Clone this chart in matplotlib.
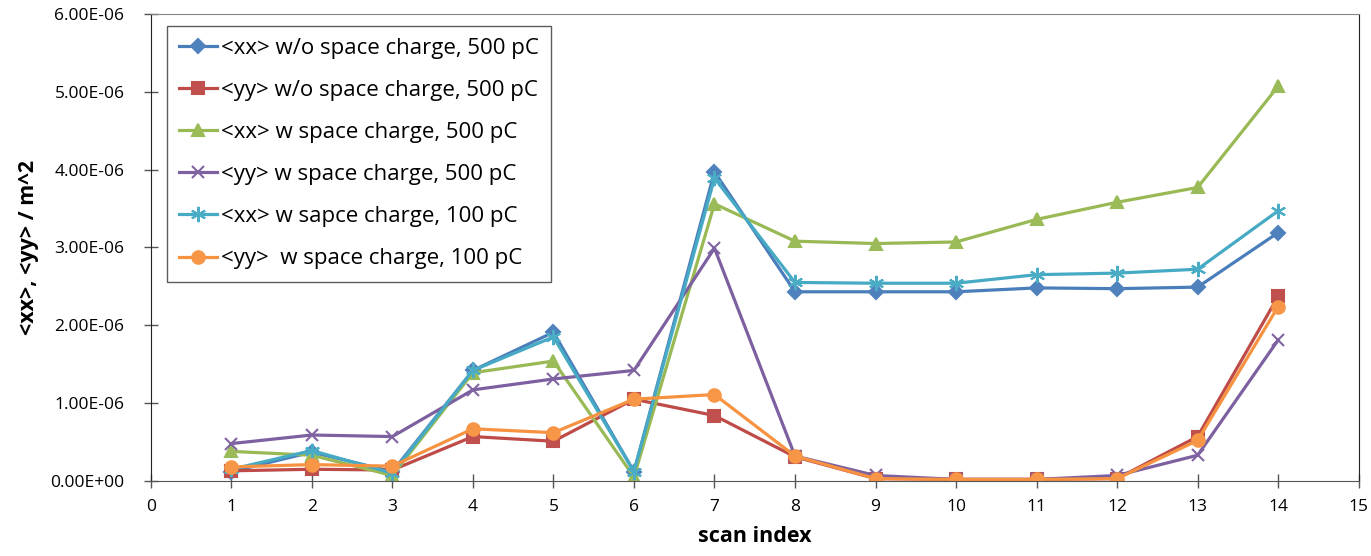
import numpy as np
import matplotlib.pyplot as plt

plt.rcParams['font.family'] = ['Open Sans', 'DejaVu Sans']

# scan positions and second moments per scan (m^2)
scan = np.arange(1, 15)

xx_nosc_500 = [0.12, 0.37, 0.12, 1.42, 1.91, 0.12, 3.97, 2.43, 2.43, 2.43, 2.48, 2.47, 2.49, 3.19]
yy_nosc_500 = [0.13, 0.15, 0.14, 0.57, 0.51, 1.05, 0.84, 0.31, 0.03, 0.02, 0.02, 0.03, 0.57, 2.37]
xx_sc_500 = [0.38, 0.33, 0.07, 1.39, 1.54, 0.05, 3.56, 3.08, 3.05, 3.07, 3.36, 3.58, 3.77, 5.07]
yy_sc_500 = [0.48, 0.59, 0.57, 1.17, 1.31, 1.42, 2.99, 0.32, 0.07, 0.02, 0.02, 0.07, 0.33, 1.81]
xx_sc_100 = [0.15, 0.39, 0.10, 1.42, 1.85, 0.12, 3.89, 2.55, 2.54, 2.54, 2.65, 2.67, 2.72, 3.47]
yy_sc_100 = [0.18, 0.21, 0.19, 0.67, 0.62, 1.05, 1.11, 0.32, 0.03, 0.02, 0.02, 0.03, 0.52, 2.24]

series = [
    (xx_nosc_500, '<xx> w/o space charge, 500 pC', '#4A7EBB', '#4F81BD', 'D', 7),
    (yy_nosc_500, '<yy> w/o space charge, 500 pC', '#BE4B48', '#C0504D', 's', 8),
    (xx_sc_500, '<xx> w space charge, 500 pC', '#98B954', '#9BBB59', '^', 9),
    (yy_sc_500, '<yy> w space charge, 500 pC', '#7D60A0', '#8064A2', 'x', 9),
    (xx_sc_100, '<xx> w sapce charge, 100 pC', '#46AAC5', '#4BACC6', (6, 2, 0), 11),
    (yy_sc_100, '<yy>  w space charge, 100 pC', '#F69240', '#F79646', 'o', 9),
]

fig = plt.figure(figsize=(13.71, 5.56), dpi=100)
ax = fig.add_axes([0.110, 0.135, 0.881, 0.840])

for vals, lab, lc, mc, mk, ms in series:
    ax.plot(scan, np.array(vals) * 1e-6, color=lc, lw=2.3, marker=mk, ms=ms,
            mfc=mc, mec=mc, mew=1.5, label=lab)

ax.set_xlim(0, 15)
ax.set_ylim(0, 6e-6)
ax.set_xticks(range(0, 16))
ax.set_yticks(np.arange(0, 7) * 1e-6)
ax.set_yticklabels([f'{v:.2E}' for v in np.arange(0, 7) * 1e-6])
ax.tick_params(direction='inout', length=10, width=1, labelsize=12.5, color='#555555')
ax.tick_params(axis='x', pad=8)
ax.tick_params(axis='y', pad=14)

ax.spines['top'].set_color('#888888')
ax.spines['right'].set_color('#222222')
ax.spines['left'].set_color('#222222')
ax.spines['bottom'].set_color('#555555')

ax.set_xlabel('scan index', fontsize=15.5, fontweight='bold', labelpad=8)
ax.set_ylabel('<xx>, <yy> / m^2', fontsize=15.5, fontweight='bold', labelpad=8)

leg = ax.legend(loc='upper left', bbox_to_anchor=(0.013, 0.975), borderaxespad=0,
                fontsize=16, frameon=True, fancybox=False, edgecolor='#333333',
                handlelength=1.7, labelspacing=0.95, borderpad=0.55, handletextpad=0.2)
leg.get_frame().set_linewidth(1.0)

fig.savefig('out.png', dpi=100)
